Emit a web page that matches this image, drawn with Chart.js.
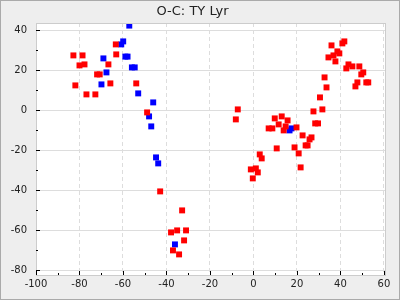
<!DOCTYPE html>
<html>
<head>
<meta charset="utf-8">
<script src="https://cdn.jsdelivr.net/npm/chart.js@4"></script>
<style>
  body { margin: 0; background: #eeeeee; }
  canvas { display: block; }
</style>
</head>
<body>
<canvas id="chart" width="400" height="300"></canvas>
<script>
const titleText = "O-C: TY Lyr";

// red series (cycle, O-C)
const redX = [-82.8, -78.6, -80.0, -77.7, -81.9, -76.8, -72.7, -71.9, -70.7, -66.7, -65.8, -63.3, -63.1, -53.9,
  -48.9, -42.9, -32.8, -37.9, -35.1, -31.0, -31.9, -37.0, -34.2, -7.2, -8.1, -1.2, 1.1, 2.0, -0.3, 2.9, 3.8,
  7.0, 8.7, 9.8, 11.6, 13.0, 13.9, 14.8, 15.7, 10.7, 18.9, 19.8, 20.8, 21.7, 22.6, 24.0, 24.9, 25.8, 26.7,
  27.6, 28.4, 29.7, 30.6, 31.7, 32.7, 33.6, 34.5, 35.9, 36.8, 37.7, 38.6, 39.5, 40.9, 41.8, 42.7, 43.7,
  45.5, 46.9, 47.8, 48.7, 49.6, 50.5, 51.9, 52.8];
const redY = [27.3, 27.3, 22.3, 22.8, 12.3, 7.8, 7.8, 17.8, 17.8, 22.8, 13.3, 32.8, 27.8, 13.3,
  -1.2, -40.7, -50.2, -61.2, -60.2, -60.2, -65.2, -70.2, -72.2, 0.3, -4.7, -29.7, -29.2, -31.2, -34.2, -22.2, -24.2,
  -9.2, -9.2, -4.2, -7.2, -3.2, -10.2, -8.2, -5.2, -19.2, -18.7, -8.7, -21.7, -28.7, -12.7, -17.7, -17.7, -14.7, -13.7,
  -0.7, -6.7, -6.7, 6.3, 0.3, 16.3, 11.3, 26.3, 32.3, 27.3, 24.3, 29.3, 28.3, 33.3, 34.3, 20.8, 22.8,
  21.8, 11.8, 13.8, 21.8, 17.8, 18.8, 13.8, 13.8];

// blue series
const blueX = [-57.1, -59.9, -60.8, -69.0, -58.9, -57.9, -55.9, -54.6, -67.6, -69.9, -53.0, -46.1, -48.0, -47.0,
  -44.8, -43.8, -36.1, 16.6, 17.5];
const blueY = [42.2, 34.3, 32.8, 25.8, 26.7, 26.7, 21.3, 21.3, 18.8, 12.8, 8.3, 3.8, -3.2, -8.2,
  -23.7, -26.7, -67.2, -10.2, -9.2];

const xTicks = [-100, -90, -80, -70, -60, -50, -40, -30, -20, -10, 0, 10, 20, 30, 40, 50, 60];
const yTicks = [-80, -70, -60, -50, -40, -30, -20, -10, 0, 10, 20, 30, 40];

const toPoints = (xs, ys) => xs.map((x, i) => ({ x: x, y: ys[i] }));

const frame = {
  id: "frame",
  beforeDraw(chart) {
    const { ctx, chartArea: a } = chart;
    ctx.save();
    ctx.fillStyle = "#eeeeee";
    ctx.fillRect(0, 0, chart.width, chart.height);
    ctx.fillStyle = "#ffffff";
    ctx.fillRect(a.left, a.top, a.right - a.left, a.bottom - a.top);
    ctx.restore();
  },
  afterDraw(chart) {
    const { ctx, chartArea: a, scales } = chart;
    ctx.save();
    ctx.strokeStyle = "#cccccc";
    ctx.lineWidth = 1;
    ctx.strokeRect(Math.round(a.left) + 0.5, Math.round(a.top) + 0.5,
      Math.round(a.right - a.left), Math.round(a.bottom - a.top));
    // tick marks pointing inward
    ctx.strokeStyle = "#000000";
    ctx.beginPath();
    xTicks.forEach(v => {
      const px = Math.round(scales.x.getPixelForValue(v)) + 0.5;
      const len = v % 20 === 0 ? 4 : 2;
      ctx.moveTo(px, a.bottom);
      ctx.lineTo(px, a.bottom - len);
    });
    yTicks.forEach(v => {
      const py = Math.round(scales.y.getPixelForValue(v)) + 0.5;
      const len = v % 20 === 0 ? 4 : 2;
      ctx.moveTo(a.left, py);
      ctx.lineTo(a.left + len, py);
    });
    ctx.stroke();
    ctx.strokeStyle = "#aaaaaa";
    ctx.strokeRect(0.5, 0.5, chart.width - 1, chart.height - 1);
    ctx.restore();
  }
};

new Chart(document.getElementById("chart"), {
  type: "scatter",
  data: {
    datasets: [
      {
        data: toPoints(redX, redY),
        backgroundColor: "#ff0000",
        pointStyle: "rect",
        pointRadius: 4.2,
        pointHoverRadius: 4.2,
        pointBorderWidth: 0,
      },
      {
        data: toPoints(blueX, blueY),
        backgroundColor: "#0000ff",
        pointStyle: "rect",
        pointRadius: 4.2,
        pointHoverRadius: 4.2,
        pointBorderWidth: 0,
      },
    ],
  },
  options: {
    responsive: false,
    animation: false,
    events: [],
    layout: { padding: { left: 0, right: 15, top: 0, bottom: 0 } },
    plugins: {
      legend: { display: false },
      tooltip: { enabled: false },
      title: {
        display: true,
        text: titleText,
        color: "#222222",
        font: { family: "DejaVu Sans", size: 13, weight: "normal" },
        padding: { top: 4, bottom: 3.4 },
      },
    },
    scales: {
      x: {
        type: "linear",
        min: -100,
        max: 60.5,
        afterBuildTicks: axis => { axis.ticks = xTicks.map(v => ({ value: v })); },
        afterFit: axis => { axis.height = 25; },
        border: { display: false, dash: [4, 3] },
        grid: {
          drawTicks: false,
          color: c => (c.tick && c.tick.value % 20 === 0 && c.tick.value !== -100) ? "#dddddd" : "transparent",
        },
        ticks: {
          autoSkip: false,
          maxRotation: 0,
          padding: 3,
          color: "#222222",
          font: { family: "DejaVu Sans", size: 10 },
          callback: v => (v % 20 === 0 ? String(v) : ""),
        },
      },
      y: {
        type: "linear",
        min: -82.5,
        max: 43.5,
        afterBuildTicks: axis => { axis.ticks = yTicks.map(v => ({ value: v })); },
        afterFit: axis => { axis.width = 36; },
        border: { display: false },
        grid: {
          drawTicks: false,
          color: c => (c.tick && c.tick.value % 20 === 0) ? "#dddddd" : "transparent",
        },
        ticks: {
          autoSkip: false,
          padding: 9,
          color: "#222222",
          font: { family: "DejaVu Sans", size: 10 },
          callback: v => (v % 20 === 0 ? String(v) : ""),
        },
      },
    },
  },
  plugins: [frame],
});
</script>
</body>
</html>
